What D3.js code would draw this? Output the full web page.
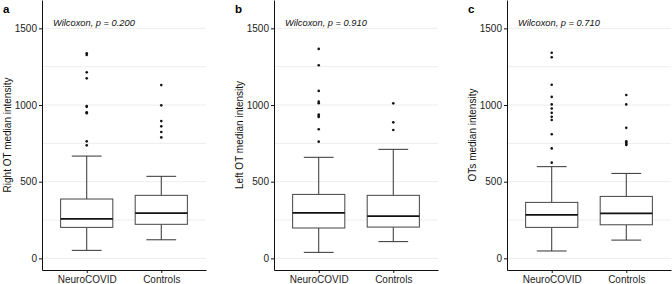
<!DOCTYPE html>
<html>
<head>
<meta charset="utf-8">
<script src="https://cdn.jsdelivr.net/npm/d3@7"></script>
<style>
  body { margin: 0; background: white; }
  svg { display: block; font-family: "Liberation Sans", Arial, sans-serif; }
</style>
</head>
<body>
<div id="viz"></div>
<script>
// groups on the x axis
let groups = ["NeuroCOVID", "Controls"];

// five numbers per group: lower whisker, Q1, median, Q3, upper whisker
let rightStats = [[52, 202, 258, 387, 667], [121, 222, 295, 411, 535]];
let leftStats  = [[39, 198, 297, 417, 659], [109, 204, 276, 411, 711]];
let bothStats  = [[48, 202, 284, 365, 598], [119, 219, 293, 404, 554]];

// outlier points per group
let rightOutliers = [
  [1338, 1326, 1213, 1174, 994, 988, 953, 947, 763, 737],
  [1130, 998, 895, 861, 824, 789]
];
let leftOutliers = [
  [1366, 1259, 1092, 1022, 1012, 938, 930, 922, 842, 761],
  [1011, 887, 837]
];
let bothOutliers = [
  [1341, 1312, 1132, 1053, 1004, 977, 949, 923, 902, 809, 717, 624],
  [1065, 1004, 851, 763, 755, 746, 739]
];

let panelLetters = ["a", "b", "c"];
let yTitles = ["Right OT median intensity", "Left OT median intensity", "OTs median intensity"];
let pLabels = ["Wilcoxon, p = 0.200", "Wilcoxon, p = 0.910", "Wilcoxon, p = 0.710"];
let yTicks = [0, 500, 1000, 1500];
let yMinor = [250, 750, 1250];

let panelStats = [rightStats, leftStats, bothStats];
let panelOutliers = [rightOutliers, leftOutliers, bothOutliers];

let w = 672;
let h = 284;
let panelLefts = [42, 274, 507];
let plotW = 164;
let plotBottom = 270;

let viz = d3.select("#viz").append("svg")
  .attr("width", w)
  .attr("height", h);

let yScale = d3.scaleLinear().domain([-76, 1685]).range([plotBottom, 0]);

function drawPanel(p) {
  let g = viz.append("g").attr("transform", "translate(" + panelLefts[p] + ",0)");
  let xScale = d3.scalePoint().domain(groups).range([0, plotW]).padding(0.6);
  let step = xScale.step();
  let boxW = step * 0.7;
  let capW = step * 0.4;

  // grid
  g.selectAll(".grid")
    .data(yTicks.concat(yMinor))
    .enter().append("line")
    .attr("x1", 0).attr("x2", plotW)
    .attr("y1", d => yScale(d)).attr("y2", d => yScale(d))
    .attr("stroke", "#ededed")
    .attr("stroke-width", 1);

  let stats = panelStats[p];
  groups.forEach(function(grp, i) {
    let s = stats[i];
    let cx = xScale(grp);
    let bg = g.append("g").attr("class", "box");
    // whiskers
    bg.append("line")
      .attr("x1", cx).attr("x2", cx)
      .attr("y1", yScale(s[0])).attr("y2", yScale(s[1]))
      .attr("stroke", "#333").attr("stroke-width", 1);
    bg.append("line")
      .attr("x1", cx).attr("x2", cx)
      .attr("y1", yScale(s[3])).attr("y2", yScale(s[4]))
      .attr("stroke", "#333").attr("stroke-width", 1);
    // caps
    [s[0], s[4]].forEach(function(v) {
      bg.append("line")
        .attr("x1", cx - capW / 2).attr("x2", cx + capW / 2)
        .attr("y1", yScale(v)).attr("y2", yScale(v))
        .attr("stroke", "#333").attr("stroke-width", 1);
    });
    // box
    bg.append("rect")
      .attr("x", cx - boxW / 2)
      .attr("y", yScale(s[3]))
      .attr("width", boxW)
      .attr("height", yScale(s[1]) - yScale(s[3]))
      .attr("fill", "white")
      .attr("stroke", "#444").attr("stroke-width", 1);
    // median
    bg.append("line")
      .attr("x1", cx - boxW / 2).attr("x2", cx + boxW / 2)
      .attr("y1", yScale(s[2])).attr("y2", yScale(s[2]))
      .attr("stroke", "#111").attr("stroke-width", 1.7);
    // outliers
    bg.selectAll("circle")
      .data(panelOutliers[p][i])
      .enter().append("circle")
      .attr("cx", cx)
      .attr("cy", d => yScale(d))
      .attr("r", 1.3)
      .attr("fill", "#111");
  });

  // axes
  let yAxis = d3.axisLeft(yScale).tickValues(yTicks).tickFormat(d3.format("d"))
    .tickSize(3).tickSizeOuter(0).tickPadding(2);
  let yg = g.append("g").call(yAxis).attr("font-family", null).attr("font-size", null);
  yg.selectAll("text").attr("font-size", "10px").attr("fill", "#222");
  yg.selectAll("line, path").attr("stroke", "#111");

  let xAxis = d3.axisBottom(xScale).tickSize(3).tickSizeOuter(0).tickPadding(3);
  let xg = g.append("g").attr("transform", "translate(0," + plotBottom + ")").call(xAxis)
    .attr("font-family", null).attr("font-size", null);
  xg.selectAll("text").attr("font-size", "10px").attr("fill", "#222");
  xg.selectAll("line, path").attr("stroke", "#111");

  // y title
  g.append("text")
    .attr("transform", "translate(-35," + (plotBottom / 2) + ") rotate(-90)")
    .attr("text-anchor", "middle")
    .attr("dy", "0.35em")
    .attr("font-size", "10px")
    .attr("fill", "#111")
    .text(yTitles[p]);

  // p value label
  g.append("text")
    .attr("x", 11)
    .attr("y", 26)
    .attr("font-size", "9.3px")
    .attr("font-style", "italic")
    .attr("fill", "#111")
    .text(pLabels[p]);

  // panel letter
  g.append("text")
    .attr("x", -39)
    .attr("y", 12.7)
    .attr("font-size", "11.5px")
    .attr("font-weight", "bold")
    .attr("fill", "#000")
    .text(panelLetters[p]);
}

for (let p = 0; p < 3; p++) {
  drawPanel(p);
}
</script>
</body>
</html>
